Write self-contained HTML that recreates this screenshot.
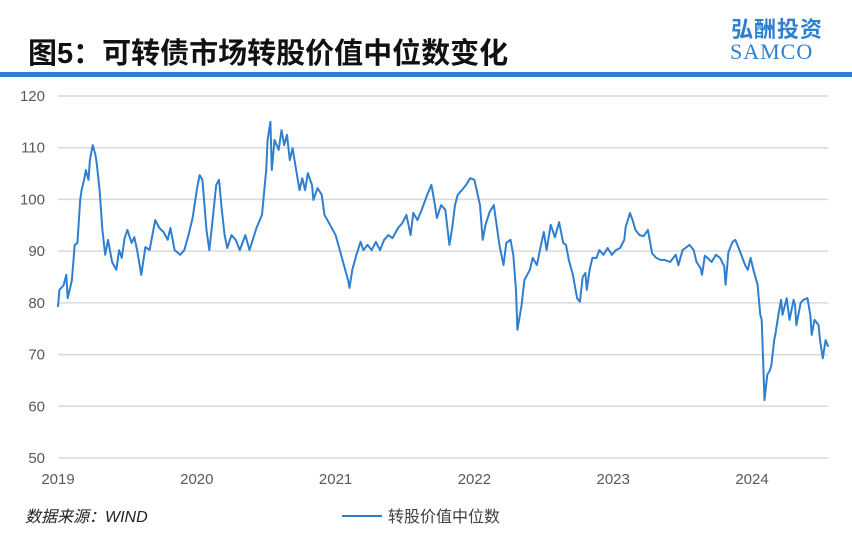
<!DOCTYPE html>
<html><head><meta charset="utf-8"><style>
html,body{margin:0;padding:0;background:#fff;width:852px;height:546px;overflow:hidden}
body{font-family:"Liberation Sans","Noto Sans CJK SC",sans-serif;position:relative}
.t{position:absolute;white-space:nowrap}
</style></head><body>
<div class="t" style="left:28px;top:30px;font-size:29px;font-weight:bold;color:#111">图5：可转债市场转股价值中位数变化</div>
<div class="t" style="left:731px;top:12px;font-size:22px;font-weight:bold;color:#2f7fd0;letter-spacing:1px">弘酬投资</div>
<div class="t" style="left:730px;top:39px;font-size:22px;letter-spacing:1px;font-family:'Liberation Serif',serif;color:#2f7fd0">SAMCO</div>
<div style="position:absolute;left:0;top:72px;width:852px;height:5px;background:#2f7fd0"></div>
<svg id="chart" width="852" height="546" style="position:absolute;left:0;top:0"></svg>
<div class="t" style="left:25px;top:503px;font-size:16px;font-style:italic;color:#222">数据来源：WIND</div>
<script>
const yTicks=[50,60,70,80,90,100,110,120];
const xTicks=[2019,2020,2021,2022,2023,2024];
const dates=[2019.00,2019.01,2019.04,2019.06,2019.07,2019.10,2019.12,2019.14,2019.16,2019.17,2019.19,2019.20,2019.22,2019.23,2019.25,2019.27,2019.28,2019.30,2019.32,2019.34,2019.36,2019.39,2019.42,2019.44,2019.46,2019.48,2019.50,2019.53,2019.55,2019.57,2019.60,2019.63,2019.66,2019.70,2019.73,2019.76,2019.79,2019.81,2019.84,2019.88,2019.91,2019.94,2019.97,2020.00,2020.02,2020.04,2020.07,2020.09,2020.11,2020.14,2020.16,2020.18,2020.20,2020.22,2020.25,2020.28,2020.31,2020.35,2020.38,2020.43,2020.47,2020.50,2020.51,2020.53,2020.54,2020.56,2020.59,2020.61,2020.63,2020.65,2020.67,2020.69,2020.71,2020.74,2020.76,2020.78,2020.80,2020.83,2020.84,2020.87,2020.90,2020.92,2020.96,2021.00,2021.03,2021.06,2021.09,2021.10,2021.12,2021.15,2021.18,2021.20,2021.23,2021.26,2021.29,2021.32,2021.35,2021.38,2021.41,2021.45,2021.48,2021.51,2021.54,2021.56,2021.59,2021.62,2021.66,2021.69,2021.71,2021.73,2021.76,2021.79,2021.82,2021.84,2021.86,2021.88,2021.91,2021.94,2021.97,2022.00,2022.04,2022.06,2022.08,2022.11,2022.14,2022.16,2022.18,2022.21,2022.23,2022.26,2022.28,2022.30,2022.31,2022.34,2022.36,2022.40,2022.42,2022.45,2022.48,2022.50,2022.52,2022.55,2022.58,2022.61,2022.64,2022.66,2022.68,2022.71,2022.74,2022.76,2022.78,2022.80,2022.81,2022.83,2022.85,2022.88,2022.90,2022.93,2022.96,2022.99,2023.02,2023.05,2023.08,2023.09,2023.11,2023.12,2023.14,2023.16,2023.19,2023.22,2023.25,2023.28,2023.31,2023.34,2023.37,2023.41,2023.45,2023.47,2023.50,2023.52,2023.55,2023.58,2023.60,2023.63,2023.64,2023.66,2023.68,2023.71,2023.74,2023.77,2023.80,2023.81,2023.83,2023.86,2023.88,2023.91,2023.95,2023.97,2023.99,2024.01,2024.04,2024.05,2024.06,2024.07,2024.08,2024.09,2024.11,2024.13,2024.14,2024.16,2024.17,2024.19,2024.21,2024.22,2024.25,2024.27,2024.30,2024.31,2024.32,2024.35,2024.37,2024.40,2024.42,2024.43,2024.45,2024.48,2024.49,2024.51,2024.53,2024.55];
const values=[79.2,82.5,83.4,85.4,80.9,84.4,91.2,91.6,99.9,101.8,104.1,105.7,103.8,107.6,110.5,108.6,106.7,101.8,94.1,89.3,92.2,87.9,86.4,90.2,88.7,92.5,94.1,91.6,92.7,90.2,85.4,90.8,90.2,96.0,94.5,93.7,92.2,94.5,90.2,89.3,90.2,93.1,96.4,101.8,104.7,103.8,94.1,90.2,95.1,102.8,103.8,98.0,93.1,90.6,93.1,92.2,90.2,93.1,90.2,94.5,97.0,105.7,111.5,115.0,105.7,111.5,109.6,113.4,110.5,112.5,107.6,109.9,106.7,101.8,104.1,101.8,105.1,102.8,99.9,102.2,100.9,97.0,95.1,93.1,90.2,87.3,84.4,82.9,86.4,89.3,91.8,90.2,91.2,90.2,91.8,90.2,92.2,93.1,92.5,94.5,95.4,97.0,93.1,97.4,96.0,98.0,100.9,102.8,99.9,96.4,98.9,98.0,91.2,94.5,98.9,100.9,101.8,102.8,104.1,103.8,98.9,92.2,95.1,97.6,98.9,95.1,91.2,87.3,91.6,92.2,89.3,82.5,74.8,79.6,84.4,86.4,88.7,87.3,91.2,93.7,90.2,95.1,92.7,95.6,91.6,91.2,88.3,85.4,80.9,80.2,85.0,85.8,82.5,86.4,88.7,88.7,90.2,89.3,90.6,89.3,90.2,90.6,92.2,94.7,96.4,97.4,96.0,94.1,93.1,92.9,94.1,89.6,88.7,88.3,88.3,87.9,89.3,87.3,90.2,90.6,91.2,90.2,87.9,86.7,85.4,89.1,88.7,87.9,89.3,88.7,87.1,83.5,89.8,91.8,92.2,90.2,87.3,86.4,88.7,86.4,83.5,80.6,77.7,76.7,69.0,61.2,66.1,67.0,68.0,72.8,74.2,77.7,80.6,77.7,80.9,76.7,80.6,79.6,75.7,80.0,80.6,80.9,77.7,73.8,76.7,75.7,72.8,69.3,72.8,71.5];

const NS='http://www.w3.org/2000/svg';
const svg=document.getElementById('chart');
const X0=58,X1=828,Y0=458,Y1=96;
function xs(t){return X0+(t-2019)*(752-58)/5;}
function ys(v){return Y0-(v-50)*(Y0-Y1)/70;}
function mk(tag,attrs){const e=document.createElementNS(NS,tag);for(const k in attrs)e.setAttribute(k,attrs[k]);svg.appendChild(e);return e;}
yTicks.forEach(v=>{
  const g=mk('line',{x1:X0,x2:X1,y1:ys(v),y2:ys(v),stroke:'#d9d9d9','stroke-width':1.5});
  
  
  const t=mk('text',{x:45,y:ys(v)+5,'text-anchor':'end','font-size':15,fill:'#595959','font-family':'Liberation Sans,sans-serif'});
  t.textContent=v;
  
  
});
xTicks.forEach(y=>{
  const t=mk('text',{x:xs(y),y:484,'text-anchor':'middle','font-size':15,fill:'#595959','font-family':'Liberation Sans,sans-serif'});
  t.textContent=y;
  
  
});
const d=dates.map((t,i)=>(i?'L':'M')+xs(t).toFixed(1)+','+ys(values[i]).toFixed(1)).join('');
const p=mk('path',{d:d,fill:'none',stroke:'#2f7fd0','stroke-width':2,'stroke-linejoin':'round'});


const ll=mk('line',{x1:342,x2:382,y1:516,y2:516,stroke:'#2f7fd0','stroke-width':2});


const lt=mk('text',{x:388,y:522,'font-size':16,fill:'#404040','font-family':'Liberation Sans,Noto Sans CJK SC,sans-serif'});
lt.textContent='转股价值中位数';


</script>
</body></html>
